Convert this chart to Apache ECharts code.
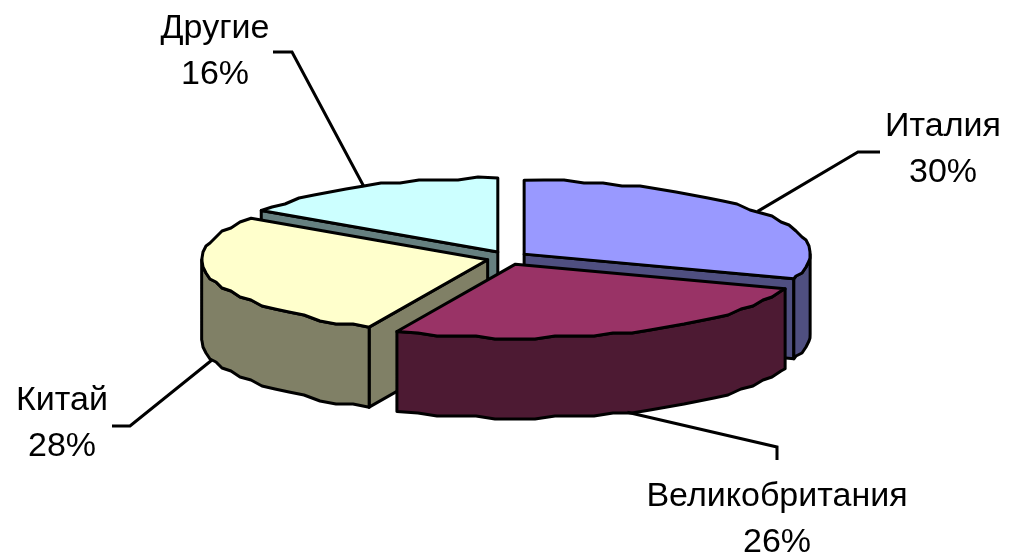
<!DOCTYPE html>
<html>
<head>
<meta charset="utf-8">
<style>html,body{margin:0;padding:0;background:#fff}#c{width:1009px;height:555px}</style>
<script src="https://cdn.jsdelivr.net/npm/echarts@6/dist/echarts.min.js"></script>
</head>
<body>
<div id="c"></div>
<script>
// Data
const categories = ['Италия', 'Великобритания', 'Китай', 'Другие'];
const shares = [30.4, 26.4, 27.7, 15.5];

// Styles
const topColors = ['#9999FF', '#993366', '#FFFFCC', '#CCFFFF'];
const wallColors = ['#4F4F80', '#4D1A33', '#808066', '#668080'];

// Layout of the projected pie and its label callouts
const CX = 507.4, CY = 258, RX = 286, RY = 74, DEPTH = 80;
const EXPLODE_X = 20.5, EXPLODE_Y = 6.7;
const STEP = 4, SNAP = 3;
const elbows = [[858, 152, 880], [777, 447, 777], [130, 426, 112], [292, 52, 273]];
const labelCenters = [[943, 150], [777, 520], [62, 424], [215, 52]];
const FONT = '34px "Liberation Sans", Arial, sans-serif';
const LINE = 46;

const total = shares.reduce((a, b) => a + b, 0);
const starts = [];
shares.reduce((acc, v, i) => { starts[i] = acc; return acc + v; }, 0);

function toAngle(v) { return v / total * Math.PI * 2; }

function renderSlice(params, api) {
  const i = params.dataIndex;
  const a0 = toAngle(starts[i]);
  const a1 = toAngle(starts[i] + api.value(1));
  const mid = (a0 + a1) / 2;
  const tip = [CX + EXPLODE_X * Math.sin(mid), CY - EXPLODE_Y * Math.cos(mid)];
  const rim = (t) => [tip[0] + RX * Math.sin(t), tip[1] - RY * Math.cos(t)];
  const snap = (p) => [Math.round(p[0]), Math.round(p[1] / SNAP) * SNAP];
  const down = (p) => [p[0], p[1] + DEPTH];

  const arc = (from, to) => {
    const pts = [rim(from)];
    const st = STEP * Math.PI / 180;
    for (let t = Math.ceil(from / st + 0.2) * st; t < to - st * 0.2; t += st) pts.push(snap(rim(t)));
    pts.push(rim(to));
    return pts;
  };

  // paint back slices first: the rank follows how far forward the slice sits
  const depthOf = (k) => -Math.cos(toAngle(starts[k] + shares[k] / 2));
  const rank = shares.map((_, k) => k).sort((p, q) => depthOf(p) - depthOf(q)).indexOf(i);
  let z = rank * 10 + 1;
  const stroke = { stroke: '#000', lineWidth: 3, lineJoin: 'round' };
  const poly = (points, fill) => ({
    type: 'polygon', z2: z++, shape: { points }, style: Object.assign({ fill }, stroke), silent: true
  });

  const children = [];
  const pStart = rim(a0), pEnd = rim(a1);
  // cut faces, only those turned towards the viewer
  if (Math.sin(a0) < -1e-6) children.push(poly([tip, pStart, down(pStart), down(tip)], wallColors[i]));
  if (Math.sin(a1) > 1e-6) children.push(poly([tip, pEnd, down(pEnd), down(tip)], wallColors[i]));
  // front part of the rim
  const f0 = Math.max(a0, Math.PI / 2), f1 = Math.min(a1, Math.PI * 1.5);
  if (f1 > f0) {
    const edge = arc(f0, f1);
    children.push(poly(edge.concat(edge.slice().reverse().map(down)), wallColors[i]));
  }
  // top surface
  children.push(poly([tip].concat(arc(a0, a1)), topColors[i]));

  // callout, anchored on the rim at the middle of the slice
  let anchor = rim(mid);
  if (Math.cos(mid) < 0 || Math.abs(Math.sin(mid)) > 0.95) anchor = down(anchor);
  const e = elbows[i];
  children.push({
    type: 'polyline', z2: 100, silent: true,
    shape: { points: [anchor, [e[0], e[1]], [e[2], e[1] + (e[2] === e[0] ? 13 : 0)]] },
    style: { stroke: '#000', lineWidth: 3, fill: null }
  });
  const c = labelCenters[i];
  children.push({
    type: 'text', z2: 101, silent: true, x: c[0], y: c[1],
    style: {
      text: categories[i] + '\n' + Math.round(api.value(1)) + '%',
      font: FONT, fill: '#000', align: 'center', verticalAlign: 'middle', lineHeight: LINE
    }
  });
  return { type: 'group', children };
}

const chart = echarts.init(document.getElementById('c'), null, { renderer: 'canvas' });
chart.setOption({
  animation: false,
  backgroundColor: '#fff',
  series: [{
    type: 'custom',
    coordinateSystem: 'none',
    renderItem: renderSlice,
    data: categories.map((n, i) => ({ name: n, value: [i, shares[i]] })),
    animation: false
  }]
});
</script>
</body>
</html>
